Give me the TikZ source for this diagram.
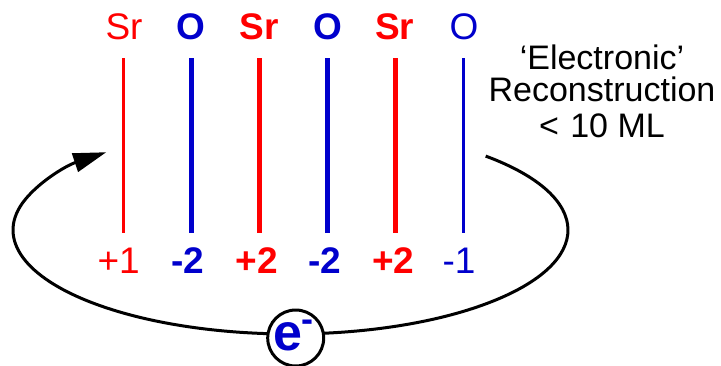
\documentclass[tikz,border=0pt]{standalone}
\usepackage{fontspec}
\setmainfont{Liberation Sans}
\usetikzlibrary{arrows.meta}
\definecolor{srred}{RGB}{255,0,0}
\definecolor{oblue}{RGB}{0,0,204}
\tikzset{
  thinline/.style={line width=2.5pt},
  thickline/.style={line width=5pt},
  toplab/.style={anchor=base, inner sep=0pt, font=\fontsize{37}{37}\selectfont},
  botlab/.style={anchor=base, inner sep=0pt, font=\fontsize{37}{37}\selectfont},
  sidelab/.style={anchor=base, inner sep=0pt, font=\fontsize{34}{34}\selectfont},
  loopline/.style={line width=3pt, -{Triangle[length=33pt,width=19pt]}},
  ecircle/.style={circle, draw, line width=3pt, fill=white, minimum size=56pt, inner sep=0pt}
}
\begin{document}
\begin{tikzpicture}[x=1pt,y=-1pt]
\useasboundingbox (0,0) rectangle (721,365);
% layer lines
\foreach \i/\x/\c/\s in {1/123.5/srred/thinline, 2/191.5/oblue/thickline, 3/259.5/srred/thickline, 4/327.5/oblue/thickline, 5/395.5/srred/thickline, 6/463.5/oblue/thinline}{
  \coordinate (t\i) at (\x,58);
  \coordinate (b\i) at (\x,233);
  \draw[\s, color=\c] (t\i) -- (b\i);
}
% top labels
\node[toplab, text=srred] (s1) at (124,39.5) {Sr};
\node[toplab, text=oblue] (o1) at (191,39.5) {\bfseries O};
\node[toplab, text=srred] (s2) at (259.3,39.5) {\bfseries Sr};
\node[toplab, text=oblue] (o2) at (327.5,39.5) {\bfseries O};
\node[toplab, text=srred] (s3) at (394.7,39.5) {\bfseries Sr};
\node[toplab, text=oblue] (o3) at (464,39.5) {O};
% bottom labels
\node[botlab, text=srred] (c1) at (118.7,273.5) {+1};
\node[botlab, text=oblue] (c2) at (188,273.5) {\bfseries -2};
\node[botlab, text=srred] (c3) at (256.7,273.5) {\bfseries +2};
\node[botlab, text=oblue] (c4) at (325,273.5) {\bfseries -2};
\node[botlab, text=srred] (c5) at (393.3,273.5) {\bfseries +2};
\node[botlab, text=oblue] (c6) at (459,273.5) {-1};
% side text
\node[sidelab] (r1) at (602,69.5) {‘Electronic’};
\node[sidelab] (r2) at (602,101.5) {Reconstruction};
\node[sidelab] (r3) at (602,137) {<\,\,10 ML};
% loop
\coordinate (ctr) at (290.5,230);
\draw[loopline] (ctr) ++(45.3:277.5pt and 104pt) coordinate (lstart)
  arc[start angle=45.3, end angle=-228.4, x radius=277.5pt, y radius=104pt] coordinate (lend);
\node[ecircle] (ec) at (295.7,338) {};
\node[anchor=base, inner sep=0pt, text=oblue, font=\fontsize{52}{52}\selectfont\bfseries] (etxt) at (293.5,350)
  {e\kern-1.5pt\raisebox{19pt}{\fontsize{36}{36}\selectfont -}};
\end{tikzpicture}
\end{document}
